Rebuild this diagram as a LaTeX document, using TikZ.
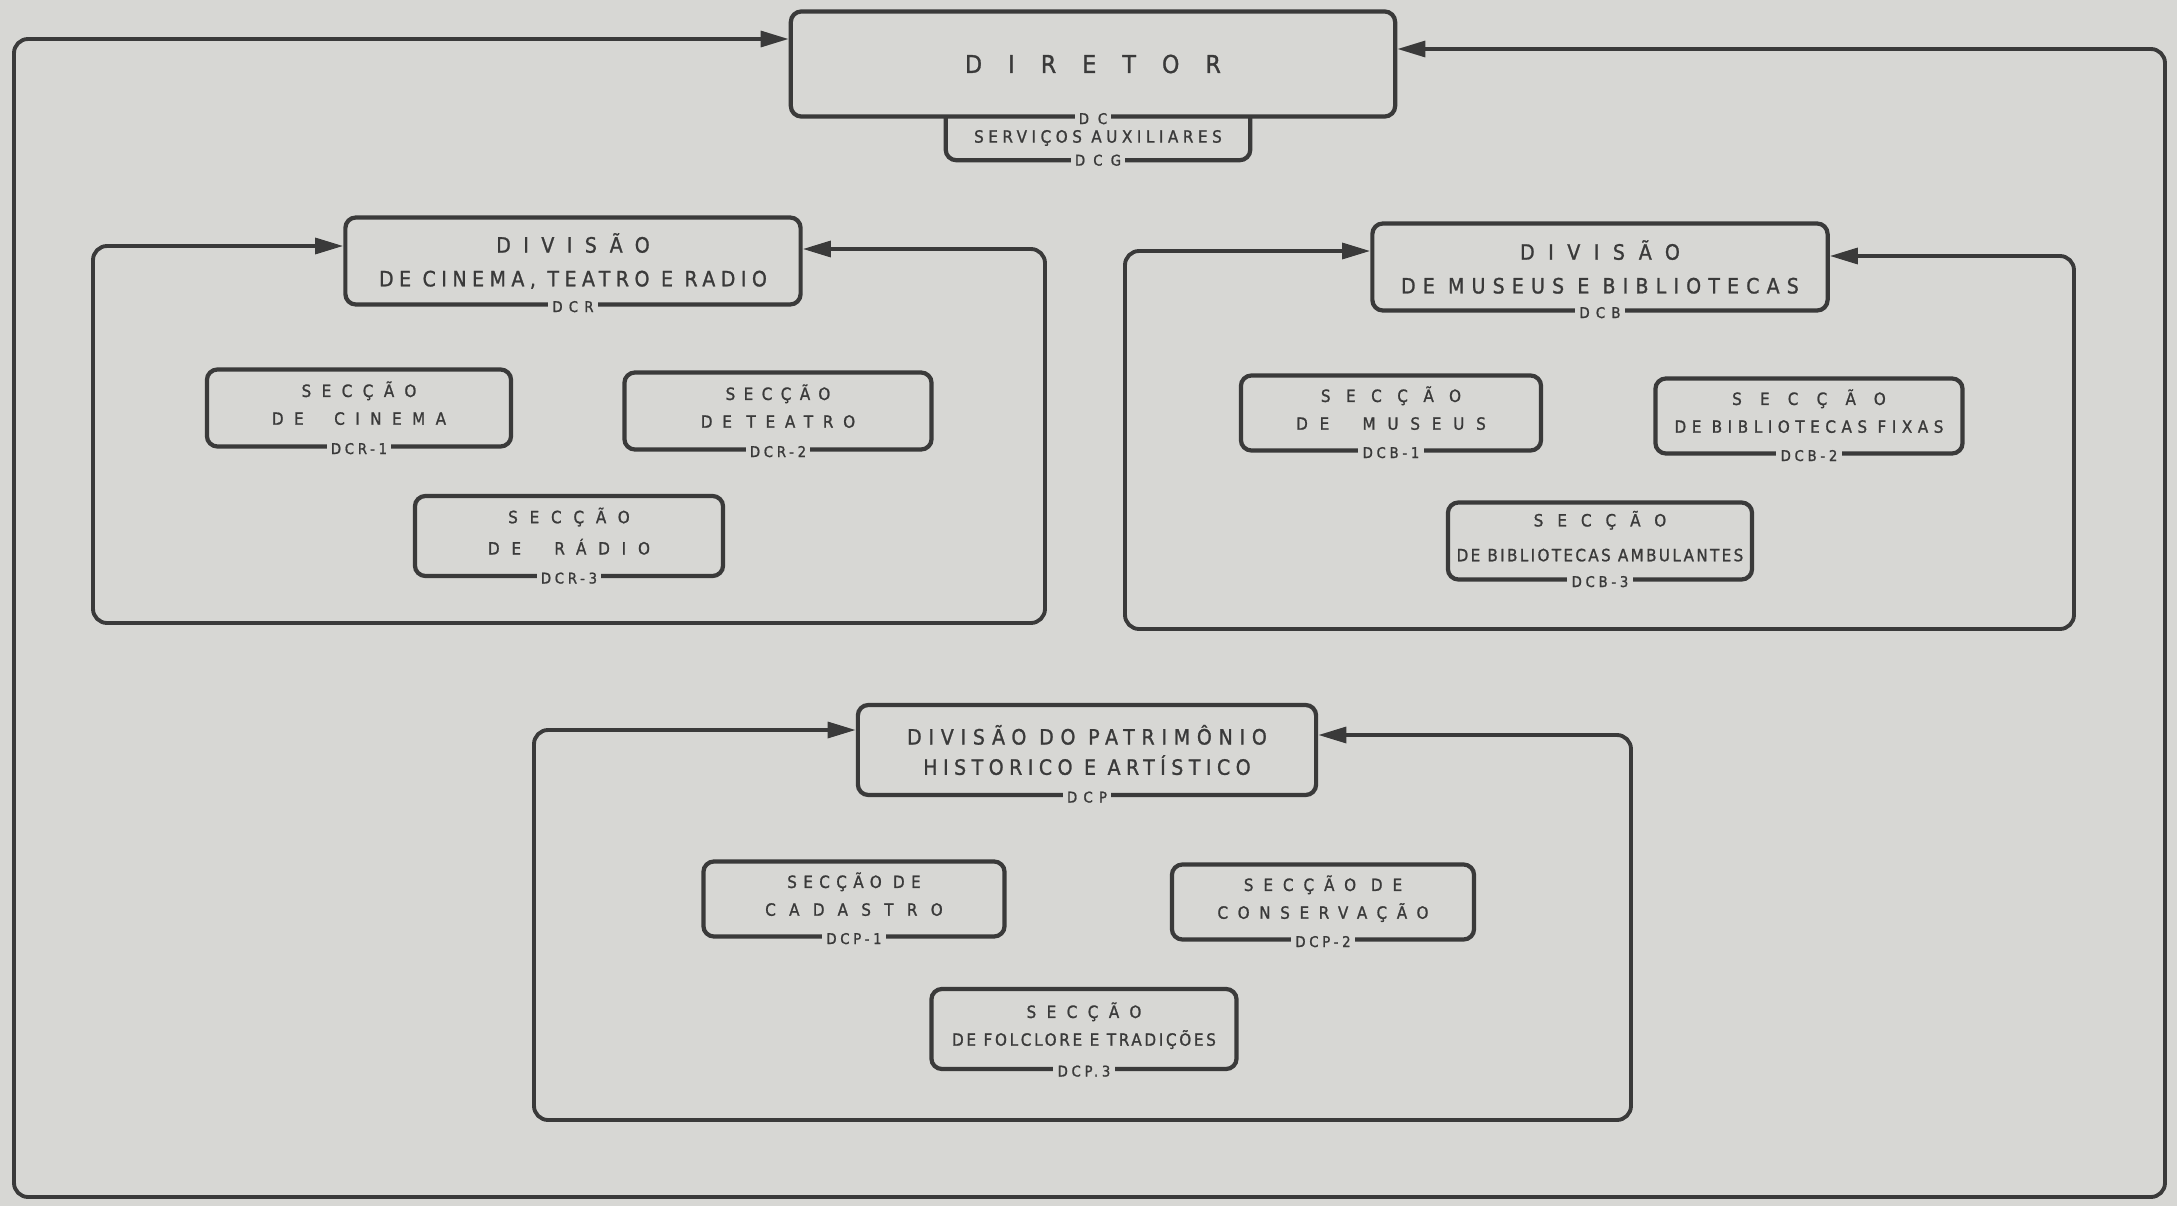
\documentclass[tikz,border=0pt]{standalone}
\usepackage{fontspec}
\usetikzlibrary{arrows.meta}
\newfontfamily\orgfont{DejaVu Sans Condensed}[FakeBold=1.2]
\definecolor{paper}{RGB}{215,215,212}
\definecolor{ink}{RGB}{58,58,58}
\newcommand{\trk}[2]{{\addfontfeature{LetterSpace=#1}#2}}
\newcommand{\dirfont}{\orgfont\fontsize{7}{8}\selectfont}
\newcommand{\divfont}{\orgfont\fontsize{6}{9.6}\selectfont}
\newcommand{\secfont}{\orgfont\fontsize{4.8}{7.9}\selectfont}
\newcommand{\codefont}{\orgfont\fontsize{4.2}{5}\selectfont}

\begin{document}
\begin{tikzpicture}[x=0.01cm,y=-0.01cm,
  unit/.style={draw=ink,line width=1.2pt,rounded corners=3pt,align=center,inner sep=0pt,text=ink},
  head/.style={unit,font=\divfont,minimum width=4.55cm,minimum height=0.87cm},
  section/.style={unit,font=\secfont,text depth=2.8pt,minimum width=3.04cm,minimum height=0.77cm},
  code/.style={fill=paper,inner sep=1.2pt,font=\codefont,text=ink},
  flow/.style={draw=ink,line width=1.1pt,rounded corners=4pt,
    {Triangle[length=8pt,width=4.5pt]}-{Triangle[length=8pt,width=4.5pt]}}]
  \fill[paper] (0,0) rectangle (2177,1206);
  \useasboundingbox (0,0) rectangle (2177,1206);

  % director and auxiliary services
  \node[unit,font=\dirfont,minimum width=6.04cm,minimum height=1.05cm] (dir) at (1093,64) {\trk{106}{DIRETOR}};
  \node[text=ink,font=\secfont,inner sep=0pt,minimum width=3.03cm,minimum height=0.43cm] (aux) at (1098,138) {\trk{27}{SERVIÇOS AUXILIARES}};
  \draw[ink,line width=1.2pt,rounded corners=3pt] (aux.north west) -- (aux.south west) -- (aux.south east) -- (aux.north east);

  % divisions
  \node[head] (dcr) at (573,261) {\trk{59}{DIVISÃO}\\\trk{26}{DE CINEMA, TEATRO E RADIO}};
  \node[head] (dcb) at (1600,267) {\trk{64}{DIVISÃO}\\\trk{34}{DE MUSEUS E BIBLIOTECAS}};
  \node[head,minimum width=4.58cm,minimum height=0.9cm] (dcp) at (1087,750) {\trk{32}{DIVISÃO DO PATRIMÔNIO}\\[-1pt]\trk{26}{HISTORICO E ARTÍSTICO}};

  % sections
  \node[section] (cine) at (359,408) {\trk{62}{SECÇÃO}\\\trk{62}{DE~ CINEMA}};
  \node[section,minimum width=3.07cm] (teatro) at (778,411) {\trk{50}{SECÇÃO}\\\trk{58}{DE TEATRO}};
  \node[section,minimum width=3.08cm,minimum height=0.8cm] (radio) at (569,536) {\trk{70}{SECÇÃO}\\[1pt]\trk{70}{DE~ RÁDIO}};
  \node[section,minimum width=3cm,minimum height=0.75cm] (museus) at (1391,413) {\trk{92}{SECÇÃO}\\\trk{70}{DE~ MUSEUS}};
  \node[section,minimum width=3.07cm,minimum height=0.75cm] (fixas) at (1809,416) {\trk{108}{SECÇÃO}\\\trk{33}{DE BIBLIOTECAS FIXAS}};
  \node[section] (ambul) at (1600,541) {\trk{83}{SECÇÃO}\\[2pt]\trk{14}{DE BIBLIOTECAS AMBULANTES}};
  \node[section,minimum width=3.01cm,minimum height=0.75cm] (cadastro) at (854,899) {\trk{38}{SECÇÃO DE}\\\trk{79}{CADASTRO}};
  \node[section,minimum width=3.02cm,minimum height=0.75cm] (conserv) at (1323,902) {\trk{59}{SECÇÃO DE}\\\trk{57}{CONSERVAÇÃO}};
  \node[section,minimum width=3.05cm,minimum height=0.8cm] (folclore) at (1084,1029) {\trk{62}{SECÇÃO}\\\trk{16}{DE FOLCLORE E TRADIÇÕES}};

  % loop corners
  \coordinate (mainNW) at (14,39);
  \coordinate (mainNE) at (2165,49);
  \coordinate (mainSE) at (2165,1197);
  \coordinate (dcrNW) at (93,246);
  \coordinate (dcrNE) at (1045,249);
  \coordinate (dcrSE) at (1045,623);
  \coordinate (dcbNW) at (1125,251);
  \coordinate (dcbNE) at (2074,256);
  \coordinate (dcbSE) at (2074,629);
  \coordinate (dcpNW) at (534,730);
  \coordinate (dcpNE) at (1631,735);
  \coordinate (dcpSE) at (1631,1120);

  \draw[flow] (mainNW -| dir.west) -- (mainNW) -- (mainNW |- mainSE) -- (mainSE) -- (mainNE) -- (mainNE -| dir.east);
  \draw[flow] (dcrNW -| dcr.west) -- (dcrNW) -- (dcrNW |- dcrSE) -- (dcrSE) -- (dcrNE) -- (dcrNE -| dcr.east);
  \draw[flow] (dcbNW -| dcb.west) -- (dcbNW) -- (dcbNW |- dcbSE) -- (dcbSE) -- (dcbNE) -- (dcbNE -| dcb.east);
  \draw[flow] (dcpNW -| dcp.west) -- (dcpNW) -- (dcpNW |- dcpSE) -- (dcpSE) -- (dcpNE) -- (dcpNE -| dcp.east);

  % codes on the lower edges
  \node[code] (dirc) at (dir.south) {\trk{60}{DC}};
  \node[code] (auxc) at (aux.south) {\trk{55}{DCG}};
  \node[code] (dcrc) at (dcr.south) {\trk{42}{DCR}};
  \node[code] (dcbc) at (dcb.south) {\trk{42}{DCB}};
  \node[code] (dcpc) at (dcp.south) {\trk{42}{DCP}};
  \node[code] (cinec) at (cine.south) {\trk{25}{DCR-1}};
  \node[code] (teatroc) at (teatro.south) {\trk{25}{DCR-2}};
  \node[code] (radioc) at (radio.south) {\trk{25}{DCR-3}};
  \node[code] (museusc) at (museus.south) {\trk{25}{DCB-1}};
  \node[code] (fixasc) at (fixas.south) {\trk{25}{DCB-2}};
  \node[code] (ambulc) at (ambul.south) {\trk{25}{DCB-3}};
  \node[code] (cadastroc) at (cadastro.south) {\trk{25}{DCP-1}};
  \node[code] (conservc) at (conserv.south) {\trk{25}{DCP-2}};
  \node[code] (folclorec) at (folclore.south) {\trk{25}{DCP.3}};
\end{tikzpicture}
\end{document}
